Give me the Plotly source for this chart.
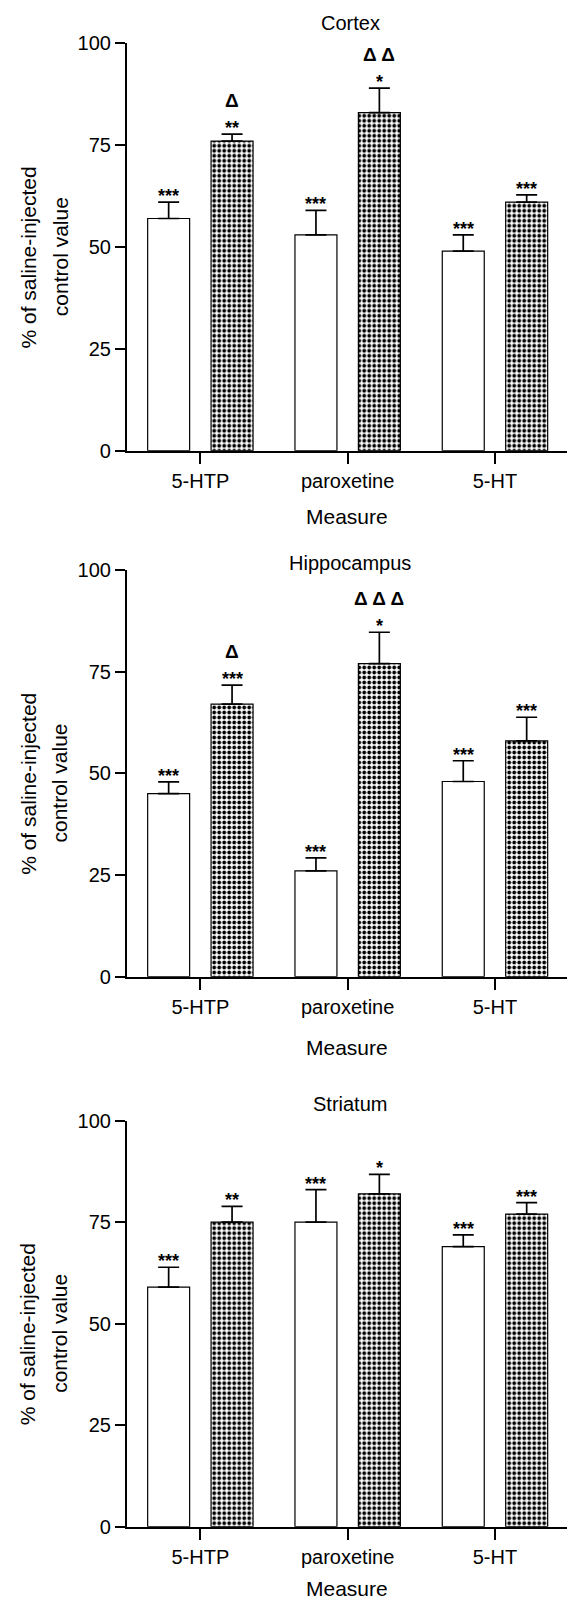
import plotly.graph_objects as go

# ---------------- data ----------------
categories = ["5-HTP", "paroxetine", "5-HT"]
regions = ["Cortex", "Hippocampus", "Striatum"]
y_ticks = [0, 25, 50, 75, 100]

cortex_open = [57, 53, 49]
cortex_open_err = [4, 6, 4]
cortex_dotted = [76, 83, 61]
cortex_dotted_err = [1.7, 6, 1.8]
cortex_open_stars = ["***", "***", "***"]
cortex_dotted_stars = ["**", "*", "***"]
cortex_dotted_deltas = ["Δ", "Δ Δ", ""]

hippo_open = [45, 26, 48]
hippo_open_err = [2.9, 3.2, 5.1]
hippo_dotted = [67, 77, 58]
hippo_dotted_err = [4.7, 7.7, 5.8]
hippo_open_stars = ["***", "***", "***"]
hippo_dotted_stars = ["***", "*", "***"]
hippo_dotted_deltas = ["Δ", "Δ Δ Δ", ""]

stri_open = [59, 75, 69]
stri_open_err = [4.9, 8, 2.9]
stri_dotted = [75, 82, 77]
stri_dotted_err = [3.9, 4.8, 2.8]
stri_open_stars = ["***", "***", "***"]
stri_dotted_stars = ["**", "*", "***"]
stri_dotted_deltas = ["", "", ""]

panels = [
    (cortex_open, cortex_open_err, cortex_dotted, cortex_dotted_err,
     cortex_open_stars, cortex_dotted_stars, cortex_dotted_deltas),
    (hippo_open, hippo_open_err, hippo_dotted, hippo_dotted_err,
     hippo_open_stars, hippo_dotted_stars, hippo_dotted_deltas),
    (stri_open, stri_open_err, stri_dotted, stri_dotted_err,
     stri_open_stars, stri_dotted_stars, stri_dotted_deltas),
]

# ---------------- layout geometry (px) ----------------
W, H = 567, 1601
PLOT_LEFT, PLOT_RIGHT = 126.7, 567.0
TOPS = [43.3, 570.0, 1120.7]
BOTTOMS = [450.7, 976.7, 1526.7]
TITLE_Y = [23.3, 563.3, 1104.0]
MEASURE_Y = [516.7, 1047.3, 1588.5]
BARGAP = 0.139
BARGROUPGAP = 0.338
FONT = "Liberation Sans, Arial, Helvetica, sans-serif"


def px_x(v):
    return v / W


def px_y(v):
    return 1 - v / H


fig = go.Figure()
annotations = []
xs = list(range(len(categories)))
slot = (1 - BARGAP) / 2

for p, (o, oe, d, de, ost, dst, dde) in enumerate(panels):
    n = "" if p == 0 else str(p + 1)
    xa, ya = "x" + n, "y" + n
    fig.add_trace(go.Bar(
        x=xs, y=o, xaxis=xa, yaxis=ya, showlegend=False,
        marker=dict(color="white", line=dict(color="black", width=1.2)),
        error_y=dict(type="data", symmetric=False, array=oe,
                     arrayminus=[0] * len(oe), color="black",
                     thickness=1.7, width=10.5),
    ))
    fig.add_trace(go.Bar(
        x=xs, y=d, xaxis=xa, yaxis=ya, showlegend=False,
        marker=dict(color="white",
                    pattern=dict(shape=".", fgcolor="black", bgcolor="white",
                                 size=5, solidity=0.45, fillmode="replace"),
                    line=dict(color="black", width=1.2)),
        error_y=dict(type="data", symmetric=False, array=de,
                     arrayminus=[0] * len(de), color="black",
                     thickness=1.7, width=10.5),
    ))
    dom_y = [px_y(BOTTOMS[p]), px_y(TOPS[p])]
    fig.layout["xaxis" + n] = dict(
        domain=[px_x(PLOT_LEFT), 1], anchor=ya, range=[-0.5, 2.489],
        tickvals=xs, ticktext=categories, showline=True, linecolor="black",
        linewidth=1.5, ticks="outside", ticklen=12, tickwidth=1.5,
        tickcolor="black", showgrid=False, zeroline=False,
        tickfont=dict(size=20, color="black", family=FONT), automargin=False,
    )
    fig.layout["yaxis" + n] = dict(
        domain=dom_y, anchor=xa, range=[0, 100], tickvals=y_ticks,
        showline=True, linecolor="black", linewidth=1.5, ticks="outside",
        ticklen=10, tickwidth=1.5, tickcolor="black", showgrid=False,
        zeroline=False, tickfont=dict(size=20, color="black", family=FONT),
        automargin=False,
    )
    # significance marks
    for i in xs:
        for j, (vals, errs, stars) in enumerate([(o, oe, ost), (d, de, dst)]):
            xpos = i + (j - 0.5) * slot
            top = vals[i] + errs[i]
            if stars[i]:
                annotations.append(dict(
                    x=xpos, y=top, xref=xa, yref=ya,
                    text="<b>" + stars[i] + "</b>",
                    showarrow=False, yanchor="bottom", yshift=-6,
                    font=dict(size=18, color="black", family=FONT)))
        if dde[i]:
            xpos = i + 0.5 * slot
            top = d[i] + de[i]
            annotations.append(dict(
                x=xpos, y=top, xref=xa, yref=ya, text="<b>" + dde[i] + "</b>",
                showarrow=False, yanchor="bottom", yshift=21,
                font=dict(size=19, color="black", family=FONT)))
    # panel title
    annotations.append(dict(
        x=px_x(350), y=px_y(TITLE_Y[p]), xref="paper", yref="paper",
        text=regions[p], showarrow=False, xanchor="center", yanchor="middle",
        font=dict(size=20, color="black", family=FONT)))
    # x-axis title
    annotations.append(dict(
        x=px_x(347), y=px_y(MEASURE_Y[p]), xref="paper", yref="paper",
        text="Measure", showarrow=False, xanchor="center", yanchor="middle",
        font=dict(size=21, color="black", family=FONT)))
    # y-axis title (two lines)
    yc = BOTTOMS[p] - 0.475 * (BOTTOMS[p] - TOPS[p])
    for xl, line in [(28.3, "% of saline-injected"), (60.0, "control value")]:
        annotations.append(dict(
            x=px_x(xl), y=px_y(yc), xref="paper", yref="paper", text=line,
            showarrow=False, textangle=-90, xanchor="center",
            yanchor="middle",
            font=dict(size=21, color="black", family=FONT)))

fig.update_layout(
    template="none",
    width=W, height=H,
    margin=dict(l=0, r=0, t=0, b=0),
    paper_bgcolor="white", plot_bgcolor="white",
    barmode="group", bargap=BARGAP, bargroupgap=BARGROUPGAP,
    annotations=annotations,
    font=dict(family=FONT, color="black"),
)

fig.write_html("out.html")
